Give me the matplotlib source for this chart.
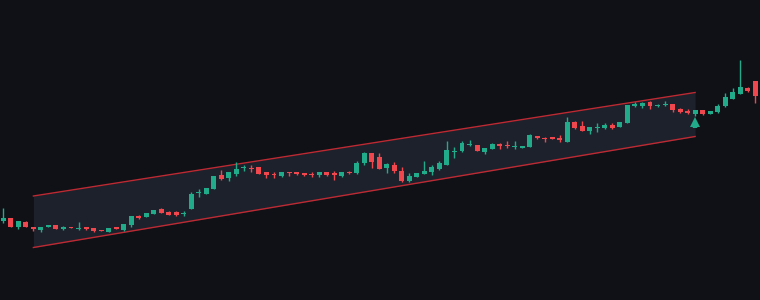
import matplotlib
matplotlib.use("Agg")
import matplotlib.pyplot as plt
import numpy as np

opens = [79.3, 82.3, 73.3, 78.3, 73.3, 70.3, 72.7, 75.0, 71.3, 73.3,
         71.0, 73.0, 71.7, 70.0, 68.3, 73.0, 70.0, 75.0, 84.0, 82.7,
         86.0, 90.7, 88.3, 87.7, 86.0, 91.0, 107.0, 105.7, 111.0, 124.7,
         122.0, 125.7, 131.7, 132.0, 133.3, 127.7, 125.7, 124.3, 128.0, 128.0,
         127.3, 126.3, 125.0, 128.0, 126.7, 124.3, 127.7, 127.3, 136.7, 147.3,
         143.0, 132.3, 135.3, 129.3, 119.0, 123.3, 126.0, 127.7, 131.3, 135.3,
         148.0, 149.0, 154.7, 155.3, 148.3, 151.3, 155.7, 154.7, 152.7, 152.3,
         153.3, 164.3, 162.3, 163.3, 162.3, 158.3, 178.3, 174.0, 169.3, 171.7,
         171.7, 174.7, 173.3, 177.3, 194.0, 194.0, 197.7, 194.0, 195.0, 196.0,
         191.3, 189.3, 186.0, 190.0, 186.0, 188.3, 194.0, 201.0, 206.0, 212.3,
         219.5]
highs = [92.3, 82.3, 79.0, 79.3, 73.3, 73.0, 75.0, 75.0, 74.3, 73.3,
         78.0, 73.0, 71.7, 70.0, 72.3, 73.0, 76.3, 84.0, 84.7, 87.3,
         90.0, 92.0, 89.0, 88.7, 89.3, 107.7, 110.7, 112.0, 124.0, 130.0,
         128.0, 137.7, 135.3, 135.3, 133.3, 128.3, 127.7, 128.3, 128.0, 128.0,
         127.3, 127.7, 127.7, 128.0, 128.7, 128.0, 129.0, 138.7, 148.3, 147.3,
         147.3, 137.3, 138.0, 132.7, 126.7, 127.3, 138.7, 135.0, 138.7, 159.0,
         152.7, 159.3, 160.0, 155.3, 151.7, 156.7, 157.3, 159.0, 159.3, 154.3,
         166.0, 164.3, 163.3, 163.3, 165.0, 182.7, 179.3, 179.3, 172.7, 176.7,
         176.7, 176.7, 178.0, 195.0, 198.3, 198.3, 199.0, 195.7, 199.3, 196.0,
         192.3, 191.0, 190.0, 190.0, 189.3, 196.0, 206.7, 212.3, 240.0, 213.3,
         219.5]
lows = [77.3, 73.3, 70.7, 73.3, 69.0, 68.3, 72.7, 71.3, 70.3, 71.7,
        69.7, 70.0, 67.7, 69.0, 68.3, 71.3, 69.0, 73.3, 81.0, 82.7,
        86.0, 87.0, 84.7, 84.3, 84.0, 91.0, 103.3, 105.7, 111.0, 120.0,
        119.3, 124.0, 129.0, 128.3, 126.3, 122.3, 122.3, 123.3, 123.7, 125.0,
        124.0, 123.3, 123.3, 124.0, 120.0, 123.3, 126.3, 126.0, 135.0, 132.3,
        131.0, 127.3, 127.3, 118.3, 117.7, 123.3, 126.0, 125.0, 130.0, 135.3,
        142.0, 147.7, 154.0, 149.0, 146.0, 150.7, 150.7, 152.0, 151.3, 152.3,
        152.7, 160.7, 157.7, 161.0, 157.7, 158.3, 171.0, 169.0, 166.0, 168.3,
        170.7, 170.7, 173.3, 177.3, 192.7, 192.3, 191.3, 193.3, 194.0, 187.7,
        186.7, 186.0, 184.0, 185.0, 186.0, 187.3, 193.3, 200.7, 206.0, 207.7,
        197.3]
closes = [82.3, 73.3, 79.0, 73.3, 70.7, 73.0, 75.0, 71.3, 73.3, 71.7,
          71.7, 71.3, 69.3, 69.0, 72.3, 71.3, 76.3, 84.0, 81.7, 87.3,
          90.0, 87.0, 85.3, 85.3, 86.7, 105.7, 107.7, 112.0, 124.0, 121.0,
          128.0, 131.0, 132.3, 131.0, 126.3, 124.7, 124.7, 127.7, 127.0, 126.0,
          125.0, 125.3, 127.7, 125.0, 124.7, 128.0, 127.0, 136.7, 147.3, 138.0,
          131.0, 135.7, 128.7, 119.0, 124.0, 127.3, 129.3, 133.3, 136.7, 150.0,
          149.3, 156.7, 156.0, 149.0, 151.7, 155.7, 154.3, 153.7, 153.3, 154.3,
          164.7, 162.3, 161.3, 161.0, 160.0, 177.7, 172.3, 169.0, 172.7, 172.3,
          175.0, 172.3, 178.0, 195.0, 195.7, 197.3, 194.3, 194.7, 196.0, 190.0,
          188.0, 186.7, 190.0, 186.0, 189.3, 194.0, 203.3, 208.3, 213.3, 208.7,
          204.0]

# parallel channel anchors (bar index, price)
channel_x = [4, 92]
channel_upper = [104.0, 207.5]
channel_lower = [52.5, 163.5]
signal_bar = 92

BG = "#0f1117"
BAND = "#1d212b"
UP = "#22ab8a"
DOWN = "#f0474f"
LINE = "#bd2a33"

fig = plt.figure(figsize=(7.6, 3.0), dpi=100, facecolor=BG)
ax = fig.add_axes([0, 0, 1, 1])
ax.set_facecolor(BG)

# channel
ax.fill_between(channel_x, channel_lower, channel_upper, color=BAND, zorder=1, linewidth=0)
ax.plot(channel_x, channel_upper, color=LINE, lw=1.0, zorder=2)
ax.plot(channel_x, channel_lower, color=LINE, lw=1.0, zorder=2)

o = np.array(opens); h = np.array(highs); l = np.array(lows); c = np.array(closes)
idx = np.arange(len(o))
cols = np.where(c >= o, UP, DOWN)
ax.vlines(idx, l, h, colors=cols, lw=1.0, zorder=3)
bottoms = np.minimum(o, c)
heights = np.maximum(np.abs(c - o), 1.0)
ax.bar(idx, heights, bottom=bottoms, width=0.66, color=cols, linewidth=0, zorder=4)

# signal arrow below bar
sig_low = lows[signal_bar]
ax.vlines([signal_bar], sig_low - 11.5, sig_low - 7.0, colors=UP, lw=3.2, zorder=5)
ax.plot([signal_bar], [sig_low - 5.5], marker="^", markersize=6.5, color=UP,
        markeredgewidth=0, zorder=6)

ax.set_xlim(-0.44, 100.63)
ax.set_ylim(0, 300)
ax.axis("off")

fig.savefig("out.png", dpi=100, facecolor=BG)
